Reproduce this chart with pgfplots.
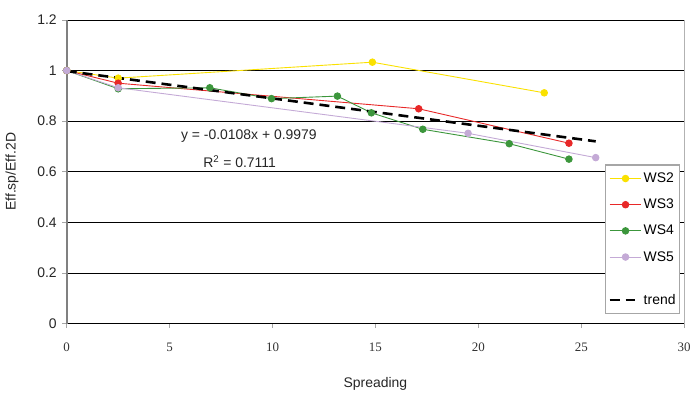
\documentclass[border=0pt]{standalone}
\usepackage{fontspec}
\setmainfont{Liberation Sans}
\newfontfamily\tnr{Liberation Serif}
\usepackage{pgfplots}
\pgfplotsset{compat=1.18}
\definecolor{cWSii}{RGB}{250,225,0}
\definecolor{cWSiii}{RGB}{232,40,40}
\definecolor{cWSiv}{RGB}{60,150,60}
\definecolor{cWSv}{RGB}{196,170,214}
\begin{document}
\begin{tikzpicture}
\begin{axis}[
  scale only axis, width=620pt, height=305pt,
  xmin=0, xmax=30, ymin=0, ymax=1.2,
  xtick={0,5,...,30}, ytick={0,0.2,0.4,0.6,0.8,1,1.2},
  axis lines*=left,
  axis background/.style={draw=gray!60, line width=0.8pt},
  x axis line style={black, line width=0.8pt, -},
  y axis line style={gray, line width=1.6pt, -},
  ymajorgrids, grid style={black, line width=0.8pt},
  tick align=outside,
  xtick style={gray!70, line width=0.8pt},
  ytick style={gray!70, line width=0.8pt},
  major tick length=4.5pt,
  /pgf/number format/assume math mode=true,
  yticklabel style={font=\fontsize{14}{16}\selectfont, text=black!85, xshift=-2pt},
  xticklabel style={font=\tnr\fontsize{13}{15}\selectfont, text=black!80, yshift=-11pt},
  xlabel={Spreading}, ylabel={Eff.sp/Eff.2D},
  every axis x label/.style={at={([yshift=-60pt]axis description cs:0.5,0)}, anchor=center, font=\fontsize{14}{16}\selectfont, text=black!85},
  every axis y label/.style={at={([xshift=-55pt]axis description cs:0,0.5)}, rotate=90, anchor=center, font=\fontsize{14}{16}\selectfont, text=black!85},
  clip=false,
  legend cell align=left,
  legend style={at={(rel axis cs:0.871,0.525)}, anchor=north west,
    draw=gray!70, line width=1.5pt, font=\fontsize{14}{16}\selectfont,
    row sep=13pt, inner xsep=3pt, inner ysep=7pt,
    nodes={inner sep=1pt}},
  legend image code/.code={\draw[mark repeat=2,mark phase=2] plot coordinates {(0pt,0pt) (16pt,0pt) (32pt,0pt)};},
]
\coordinate (bl) at (rel axis cs:0,0);
\coordinate (tr) at (rel axis cs:1,1);
\addplot[color=cWSii, line width=0.9pt, mark=*, mark size=3.3pt] coordinates {
  (0,1.0) (2.5,0.97) (14.85,1.033) (23.2,0.912)};
\addlegendentry{WS2}
\addplot[color=cWSiii, line width=0.9pt, mark=*, mark size=3.3pt] coordinates {
  (0,1.0) (2.5,0.95) (17.1,0.849) (24.4,0.713)};
\addlegendentry{WS3}
\addplot[color=cWSiv, line width=0.9pt, mark=*, mark size=3.3pt] coordinates {
  (0,1.0) (2.5,0.928) (6.95,0.932) (9.95,0.889) (13.15,0.899) (14.8,0.833) (17.3,0.768) (21.5,0.711) (24.4,0.65)};
\addlegendentry{WS4}
\addplot[color=cWSv, line width=0.9pt, mark=*, mark size=3.3pt] coordinates {
  (0,1.0) (2.5,0.932) (19.5,0.752) (25.7,0.656)};
\addlegendentry{WS5}
\addlegendimage{empty legend}
\addlegendentry{}
\addplot[black, line width=2.6pt, dash pattern=on 10pt off 6pt, no marks] coordinates {
  (0,0.9979) (25.7,0.7203)};
\addlegendentry{trend}
\node[font=\fontsize{14}{16}\selectfont, text=black!85] at (axis cs:8.85,0.74) {y = -0.0108x + 0.9979};
\node[font=\fontsize{14}{16}\selectfont, text=black!85] at (axis cs:8.4,0.64) {R\textsuperscript{2} = 0.7111};
\end{axis}
\path ([shift={(-67pt,-71pt)}]bl) rectangle ([shift={(7pt,20pt)}]tr);
\end{tikzpicture}
\end{document}
